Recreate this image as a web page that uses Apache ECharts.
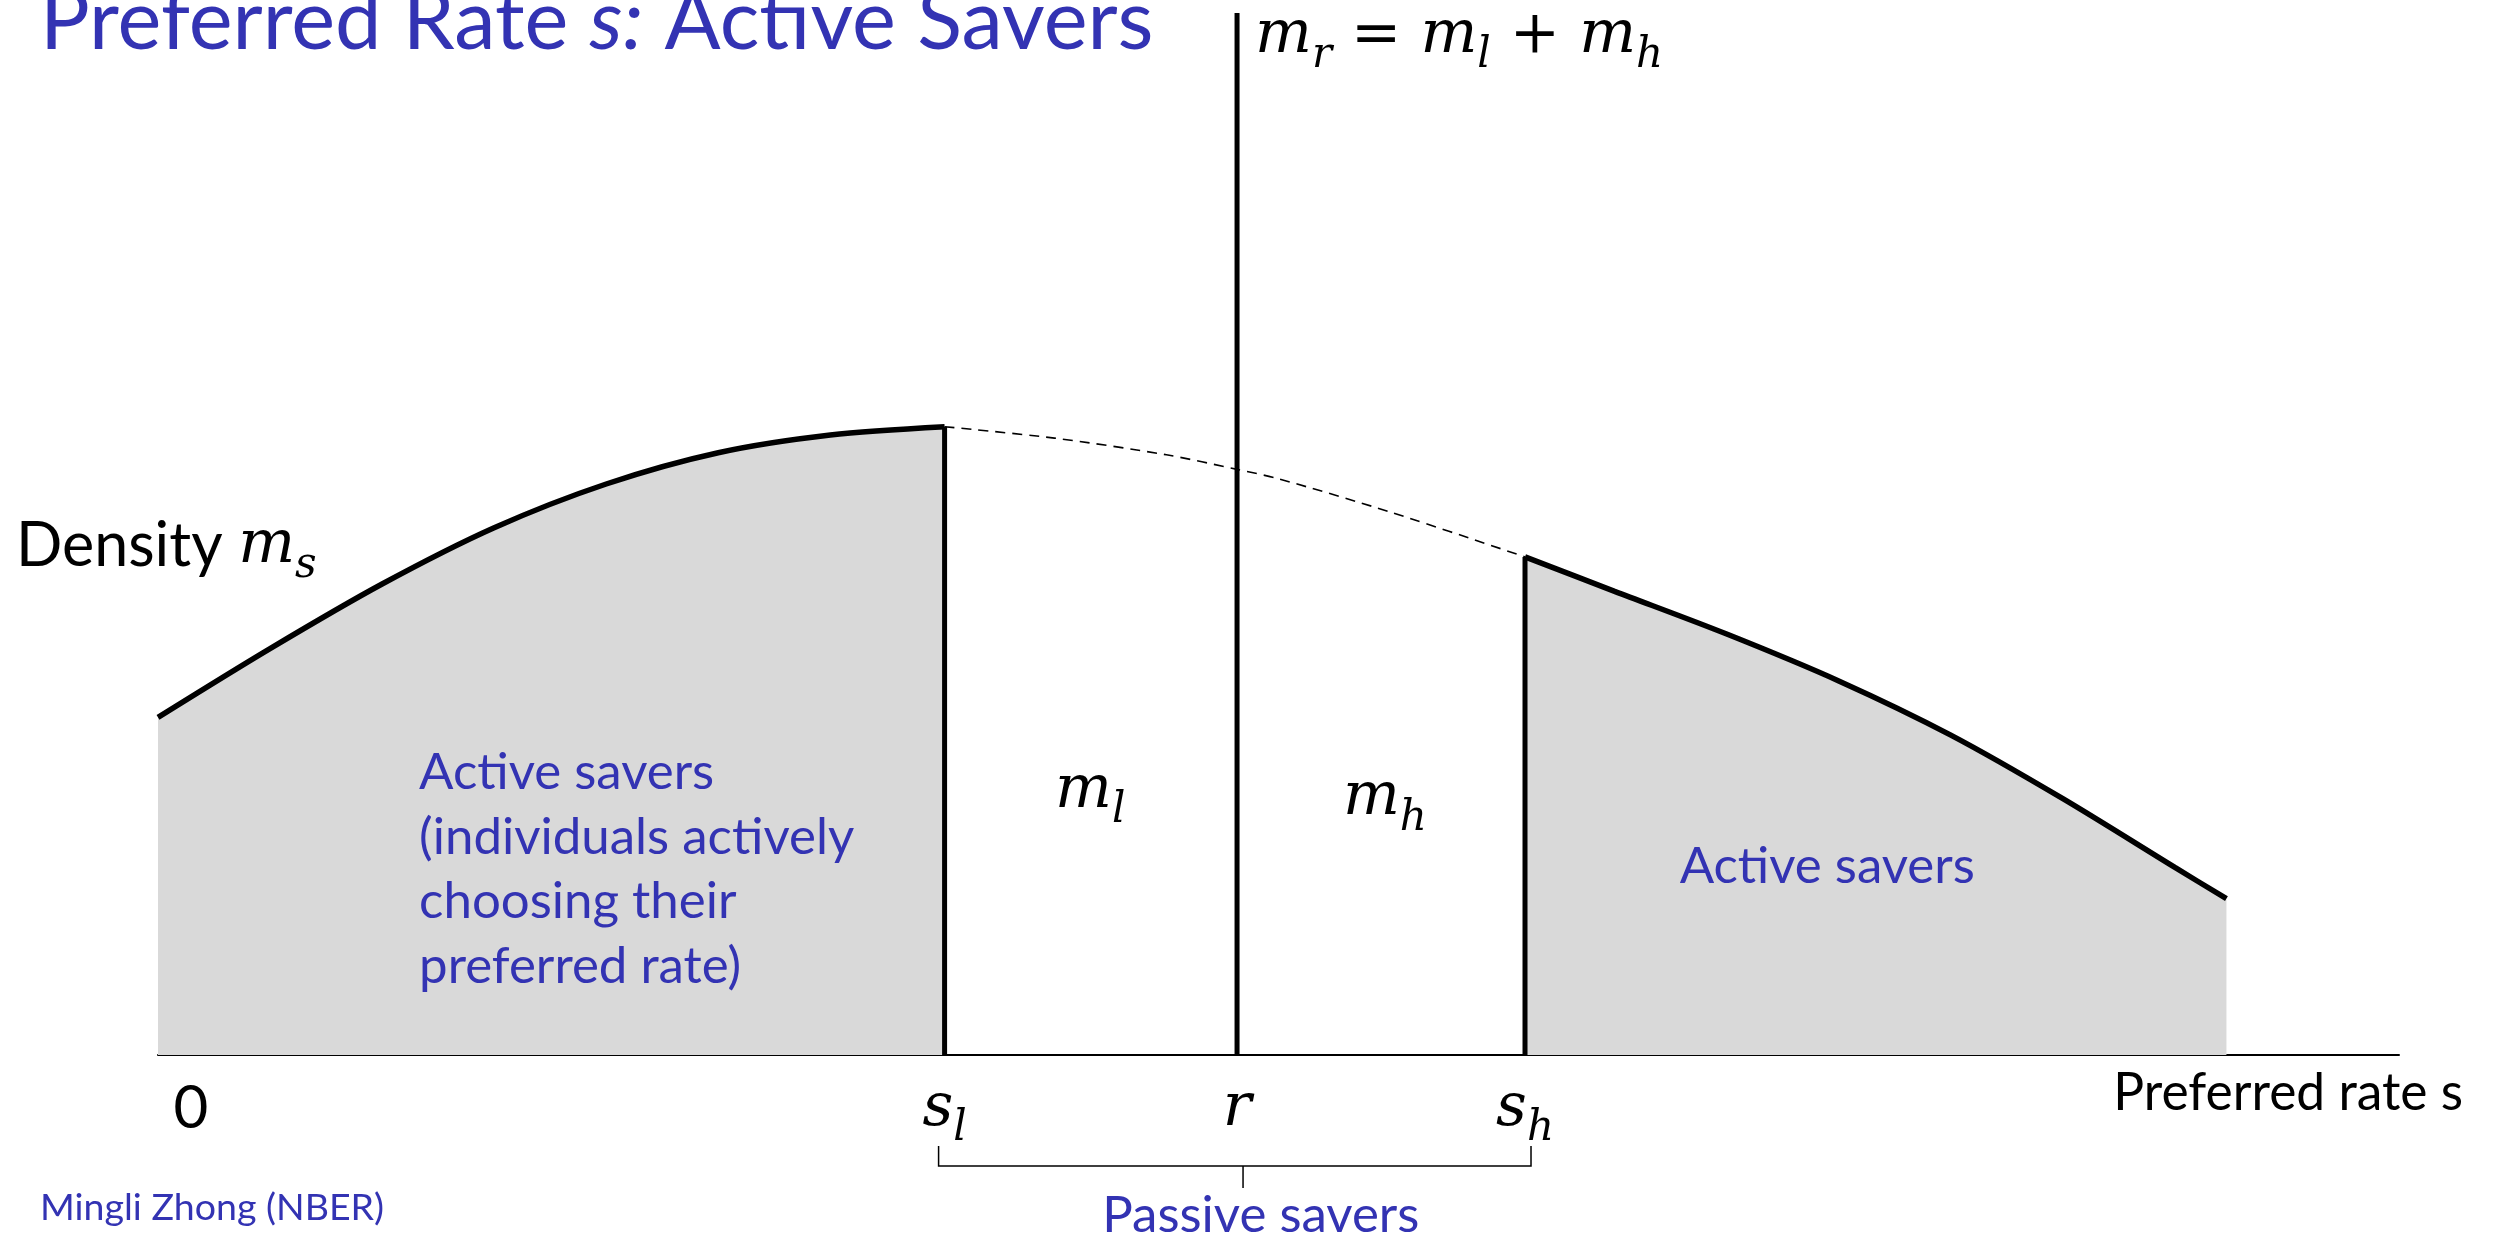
<!DOCTYPE html>
<html>
<head>
	<meta charset="utf-8">
	<title>Preferred Rate s: Active Savers</title>
	<script type="text/javascript" src="https://cdn.jsdelivr.net/npm/echarts@6/dist/echarts.min.js"></script>
	<style>
		html, body { margin: 0; padding: 0; background: #fff; }
		#main { width: 2496px; height: 1238px; }
	</style>
</head>
<body>
	<div id="main"></div>

	<script type="text/javascript">
		// density m_s over the preferred rate s (s runs 0..10 on the axis)
		var leftS  = [0, 0.5, 1.0, 1.5, 2.0, 2.5, 3.0, 3.51];
		var leftM  = [3.24, 3.90, 4.52, 5.06, 5.48, 5.78, 5.95, 6.03];
		var midS   = [3.51, 4.0, 4.5, 4.815, 5.0, 5.5, 6.10];
		var midM   = [6.03, 5.92, 5.76, 5.62, 5.53, 5.21, 4.78];
		var rightS = [6.10, 6.5, 7.0, 7.5, 8.0, 8.5, 9.0, 9.23];
		var rightM = [4.78, 4.45, 4.04, 3.59, 3.07, 2.46, 1.80, 1.50];

		// s_l, r, s_h and the height of their vertical lines
		var cutS   = [3.51, 4.815, 6.10];
		var cutTop = [6.03, 10, 4.78];

		// tick labels on the s axis
		var tickValues = [0, 3.51, 4.815, 6.10];
		var tickLabels = ['{z|0}', '{i|s}{sub|l}', '{i|r}', '{i|s}{sub|h}'];

		var BLUE = '#3333b3';
		var SANS = 'Lato';
		var MATH = 'DejaVu Serif';

		function pairs(xs, ys) {
			return xs.map(function (x, i) { return [x, ys[i]]; });
		}

		var mathRich = {
			i: { fontFamily: MATH, fontStyle: 'italic', fontSize: 60, lineHeight: 84, color: '#000' },
			n: { fontFamily: MATH, fontSize: 60, lineHeight: 84, color: '#000' },
			sub: { fontFamily: MATH, fontStyle: 'italic', fontSize: 42, padding: [40, 0, 0, 0], color: '#000' },
			z: { fontFamily: SANS, fontSize: 60, lineHeight: 84, padding: [0, 0, 0, 66], color: '#000' },
			t: { fontFamily: SANS, fontSize: 61, lineHeight: 84, color: '#000' }
		};

		var series = [
			{
				type: 'line', data: pairs(leftS, leftM), smooth: 0.3, symbol: 'none',
				lineStyle: { color: '#000', width: 5.5 },
				areaStyle: { color: '#d9d9d9', opacity: 1 }, z: 2
			},
			{
				type: 'line', data: pairs(rightS, rightM), smooth: 0.3, symbol: 'none',
				lineStyle: { color: '#000', width: 5.5 },
				areaStyle: { color: '#d9d9d9', opacity: 1 }, z: 2
			},
			{
				type: 'line', data: pairs(midS, midM), smooth: 0.3, symbol: 'none',
				lineStyle: { color: '#000', width: 1.6, type: [10, 7] }, z: 2
			}
		];
		cutS.forEach(function (s, i) {
			series.push({
				type: 'line', data: [[s, 0], [s, cutTop[i]]], symbol: 'none',
				lineStyle: { color: '#000', width: 5 }, z: 3
			});
		});

		var chart = echarts.init(document.getElementById('main'));
		chart.setOption({
			animation: false,
			backgroundColor: '#fff',
			grid: { left: 158, right: 97, top: 13, bottom: 183, containLabel: false, outerBoundsMode: 'none' },
			xAxis: {
				type: 'value', min: 0, max: 10,
				axisLine: { show: true, lineStyle: { color: '#000', width: 2 } },
				axisTick: { show: false },
				splitLine: { show: false },
				axisLabel: {
					customValues: tickValues,
					showMinLabel: true,
					margin: 12,
					formatter: function (v) {
						for (var k = 0; k < tickValues.length; k++) {
							if (Math.abs(tickValues[k] - v) < 1e-6) return tickLabels[k];
						}
						return '';
					},
					rich: mathRich
				},
				name: 'Preferred rate s',
				nameLocation: 'end',
				nameGap: 64,
				nameTextStyle: {
					fontFamily: SANS, fontSize: 51.5, color: '#000',
					align: 'right', verticalAlign: 'top', padding: [12, 0, 0, 0]
				}
			},
			yAxis: { type: 'value', min: 0, max: 10, show: false },
			series: series
		});

		function px(s, m) { return chart.convertToPixel({ gridIndex: 0 }, [s, m]); }

		var pL = px(cutS[0], 0), pR = px(cutS[1], cutTop[1]), pH = px(cutS[2], 0);
		var yB = 1146, yM = 1166, yT = 1188;

		chart.setOption({
			graphic: [
				{
					type: 'text', x: 40, y: 22, z: 100,
					style: {
						text: 'Preferred Rate {it|s:} Active Savers',
						fill: BLUE, font: '83px ' + SANS,
						align: 'left', verticalAlign: 'middle',
						rich: { it: { fontFamily: SANS, fontSize: 83, fontStyle: 'italic', fill: BLUE } }
					}
				},
				{
					type: 'text', x: pR[0] + 18, y: 36, z: 100,
					style: {
						text: '{i|m}{sub|r}{n| = }{i|m}{sub|l}{n| + }{i|m}{sub|h}',
						align: 'left', verticalAlign: 'middle', rich: mathRich
					}
				},
				{
					type: 'text', x: 16, y: px(0, 4.88)[1], z: 100,
					style: {
						text: '{t|Density }{i|m}{sub|s}',
						align: 'left', verticalAlign: 'middle', rich: mathRich
					}
				},
				{
					type: 'text', x: px(4.16, 2.53)[0], y: px(4.16, 2.53)[1], z: 100,
					style: { text: '{i|m}{sub|l}', align: 'center', verticalAlign: 'middle', rich: mathRich }
				},
				{
					type: 'text', x: px(5.475, 2.46)[0], y: px(5.475, 2.46)[1], z: 100,
					style: { text: '{i|m}{sub|h}', align: 'center', verticalAlign: 'middle', rich: mathRich }
				},
				{
					type: 'text', x: px(1.165, 3.02)[0], y: px(1.165, 3.02)[1], z: 100,
					style: {
						text: 'Active savers\n(individuals actively\nchoosing their\npreferred rate)',
						fill: BLUE, font: '51px ' + SANS, lineHeight: 64.5,
						align: 'left', verticalAlign: 'top'
					}
				},
				{
					type: 'text', x: px(6.79, 1.81)[0], y: px(6.79, 1.81)[1], z: 100,
					style: {
						text: 'Active savers', fill: BLUE, font: '51px ' + SANS,
						align: 'left', verticalAlign: 'middle'
					}
				},
				{
					type: 'polyline', z: 100,
					shape: { points: [[pL[0] - 6, yB], [pL[0] - 6, yM], [pH[0] + 6, yM], [pH[0] + 6, yB]] },
					style: { stroke: '#000', lineWidth: 1.5, fill: null }
				},
				{
					type: 'line', z: 100,
					shape: { x1: pR[0] + 6, y1: yM, x2: pR[0] + 6, y2: yT },
					style: { stroke: '#000', lineWidth: 1.5 }
				},
				{
					type: 'text', x: (pL[0] + pH[0]) / 2 + 26, y: 1216, z: 100,
					style: {
						text: 'Passive savers', fill: BLUE, font: '51px ' + SANS,
						align: 'center', verticalAlign: 'middle'
					}
				},
				{
					type: 'text', x: 40, y: 1208, z: 100,
					style: {
						text: 'Mingli Zhong (NBER)', fill: BLUE, font: '37.5px ' + SANS,
						align: 'left', verticalAlign: 'middle'
					}
				}
			]
		});
	</script>
</body>
</html>
